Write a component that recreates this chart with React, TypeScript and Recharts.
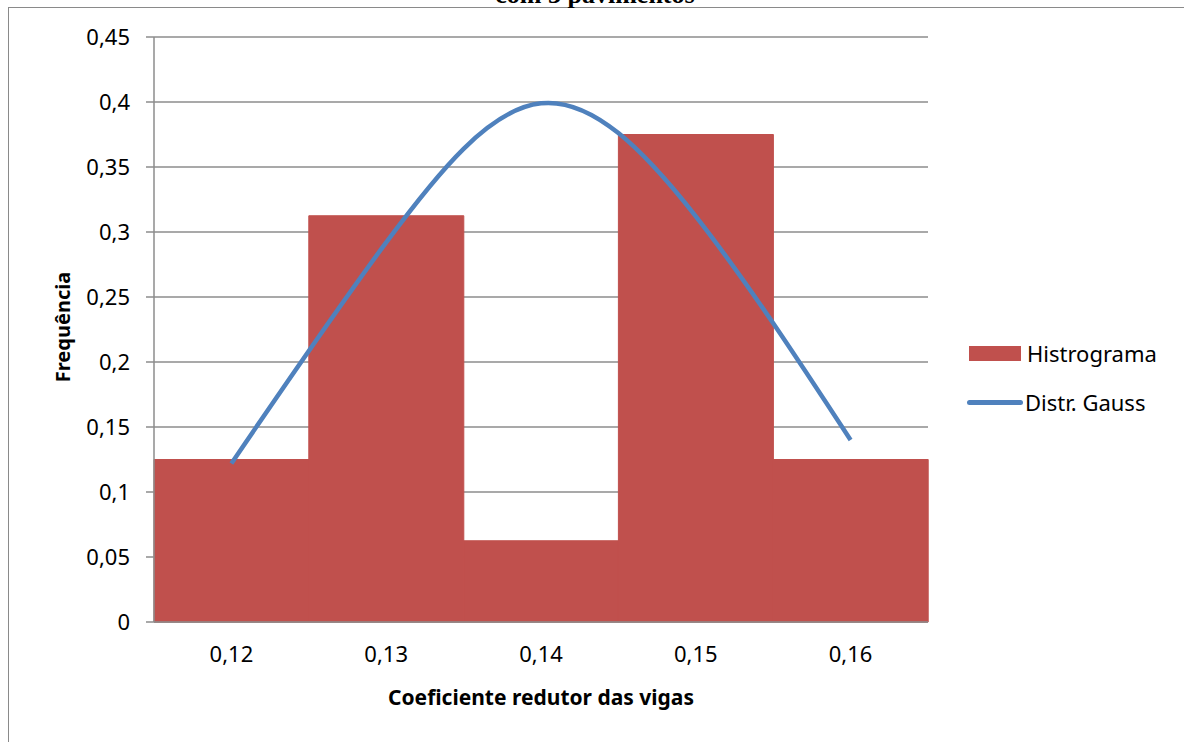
import React from 'react';
import { ComposedChart, Bar, Line, XAxis, YAxis, CartesianGrid } from 'recharts';

const categories = ['0,12', '0,13', '0,14', '0,15', '0,16'];
const histValues = [0.125, 0.3125, 0.0625, 0.375, 0.125];
const gaussValues = [0.122, 0.292, 0.399, 0.312, 0.14];
const yTicks = [0, 0.05, 0.1, 0.15, 0.2, 0.25, 0.3, 0.35, 0.4, 0.45];
const seriesNames = ['Histrograma', 'Distr. Gauss'];

const data = categories.map((c, i) => ({ cat: c, hist: histValues[i], gauss: gaussValues[i] }));

const FONT = '"Noto Sans", "Open Sans", sans-serif';

const fmt = (v: number) => String(Math.round(v * 100) / 100).replace('.', ',');

export default function App() {
  return (
    <div style={{ position: 'absolute', left: 0, top: 0, width: 1184, height: 742, overflow: 'hidden', background: '#fff' }}>
      <div style={{ position: 'absolute', left: 8, top: 7, width: 1300, height: 900, border: '1px solid #8a8a8a' }} />
      <div style={{ position: 'absolute', left: 380, width: 430, top: -20, textAlign: 'center', fontFamily: '"Liberation Serif", serif', fontWeight: 'bold', fontSize: 26, lineHeight: '30px', color: '#000' }}>
        com 3 pavimentos
      </div>
      <div style={{ position: 'absolute', left: 0, top: 0 }}>
        <ComposedChart width={1184} height={742} data={data} margin={{ top: 37, right: 256, bottom: 0, left: 0 }} barCategoryGap={0} barGap={0}>
          <CartesianGrid horizontal vertical={false} stroke="#8c8c8c" strokeWidth={1.5} />
          <XAxis dataKey="cat" height={120} tickLine={false} axisLine={{ stroke: '#8c8c8c', strokeWidth: 1.5 }} tick={{ fill: '#000', fontSize: 22, fontFamily: FONT }} tickMargin={18} />
          <YAxis width={154} domain={[0, 0.45]} ticks={yTicks} tickFormatter={fmt} interval={0} tickSize={8} tickLine={{ stroke: '#8c8c8c', strokeWidth: 1.5 }} axisLine={{ stroke: '#8c8c8c', strokeWidth: 1.5 }} tick={{ fill: '#000', fontSize: 22, fontFamily: FONT }} tickMargin={16} />
          <Bar dataKey="hist" name={seriesNames[0]} fill="#C0504D" stroke="#C0504D" strokeWidth={1} isAnimationActive={false} />
          <Line dataKey="gauss" name={seriesNames[1]} type="natural" stroke="#4F81BD" strokeWidth={4.5} dot={false} isAnimationActive={false} />
        </ComposedChart>
      </div>
      <div style={{ position: 'absolute', left: 969, top: 339, fontFamily: FONT, fontSize: 22, color: '#000' }}>
        <div style={{ display: 'flex', alignItems: 'center', height: 28 }}>
          <div style={{ width: 52, height: 15, background: '#C0504D', marginRight: 6 }} />
          <span>{seriesNames[0]}</span>
        </div>
        <div style={{ display: 'flex', alignItems: 'center', height: 28, marginTop: 21 }}>
          <div style={{ width: 56, height: 5, background: '#4F81BD', borderRadius: 3, marginRight: 2, marginLeft: -2 }} />
          <span>{seriesNames[1]}</span>
        </div>
      </div>
      <div style={{ position: 'absolute', left: 62, top: 327, transform: 'translate(-50%, -50%) rotate(-90deg)', fontFamily: FONT, fontWeight: 'bold', fontSize: 20, whiteSpace: 'nowrap', color: '#000' }}>
        Frequência
      </div>
      <div style={{ position: 'absolute', left: 541, top: 697, transform: 'translate(-50%, -50%)', fontFamily: FONT, fontWeight: 'bold', fontSize: 21, whiteSpace: 'nowrap', color: '#000' }}>
        Coeficiente redutor das vigas
      </div>
    </div>
  );
}
